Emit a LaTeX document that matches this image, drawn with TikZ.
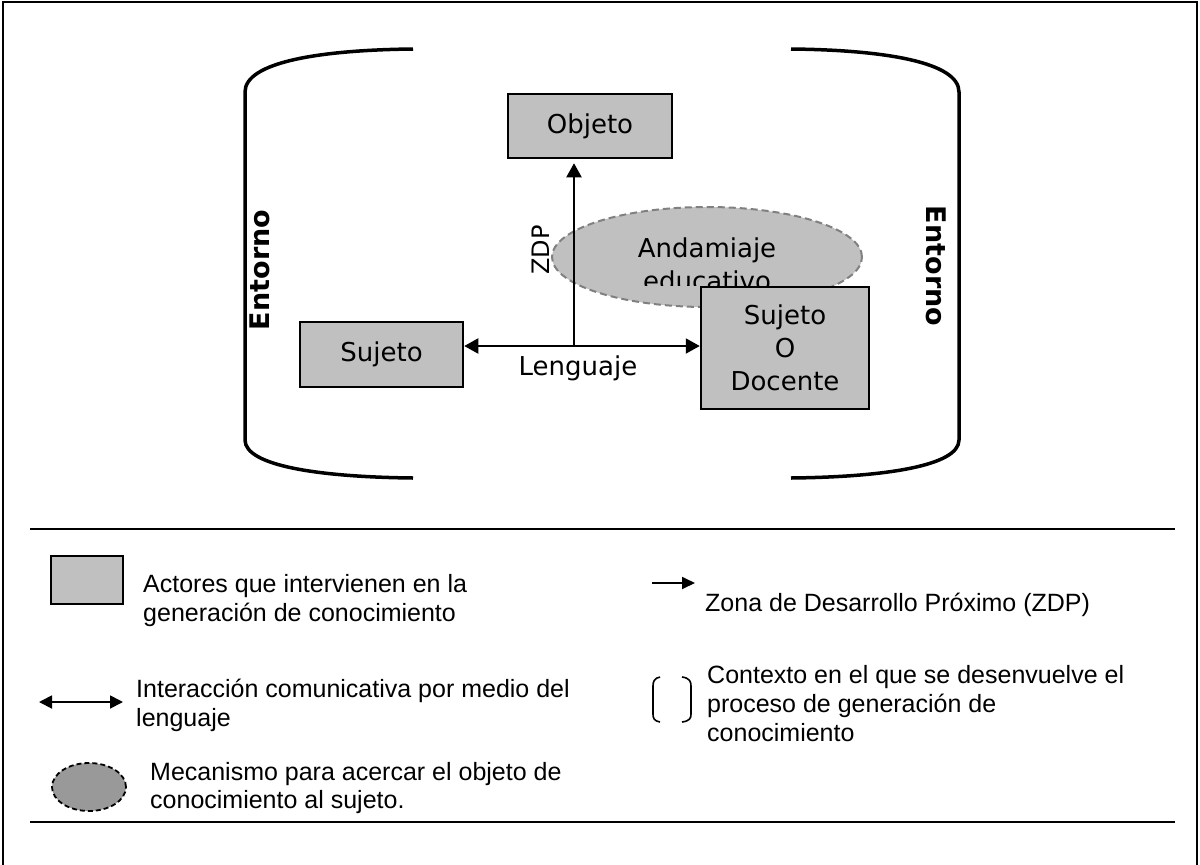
\documentclass[tikz,border=0pt]{standalone}
\usepackage{fontspec}
\newfontfamily\dvs{DejaVu Sans}
\newfontfamily\lib{Liberation Sans}
\usetikzlibrary{arrows.meta,shapes.geometric}
\definecolor{boxgray}{HTML}{C0C0C0}
\definecolor{dashgray}{HTML}{808080}
\definecolor{legendgray}{HTML}{999999}
\begin{document}
\begin{tikzpicture}[x=1pt,y=-1pt,
  actor/.style={draw=black, line width=2.5pt, fill=boxgray, inner sep=0pt,
    font=\dvs\fontsize{26}{33}\selectfont, align=center},
  bracket/.style={draw=black, line width=3.5pt},
  arr/.style={line width=2pt, -{Triangle[length=14pt,width=15pt]}},
  darr/.style={line width=2pt, {Triangle[length=14pt,width=15pt]}-{Triangle[length=14pt,width=15pt]}},
  lbl/.style={font=\dvs\fontsize{26}{32}\selectfont, inner sep=0pt},
  envlbl/.style={font=\dvs\bfseries\fontsize{27}{32}\selectfont, inner sep=0pt},
  legtext/.style={font=\lib\fontsize{25}{29}\selectfont, inner sep=0pt, anchor=base west},
  rule/.style={line width=2.7pt},
  frame/.style={line width=2pt}
]
\useasboundingbox (0,0) rectangle (1200,865);

% frame
\draw[frame] (3,865) -- (3,2) -- (1197,2) -- (1197,865);

% environment brackets
\draw[bracket] (413,49) .. controls (320,50) and (245,62) .. (245,92) -- (245,440)
  .. controls (245,466) and (320,477) .. (413,478);
\draw[bracket] (791,49) .. controls (884,50) and (959,62) .. (959,92) -- (959,440)
  .. controls (959,466) and (884,477) .. (791,478);
\node[envlbl, rotate=90] (entL) at (260,270) {Entorno};
\node[envlbl, rotate=-90] (entR) at (936,266) {Entorno};

% scaffolding ellipse
\node[ellipse, draw=dashgray, line width=2pt, dash pattern=on 7pt off 4pt,
  fill=boxgray, minimum width=310pt, minimum height=100pt, inner sep=0pt] (andam) at (707,257) {};
\node[lbl, anchor=base] (andamA) at (707,257) {Andamiaje};
\begin{scope}
  \clip (552,200) rectangle (863,285);
  \node[lbl, anchor=base] (andamB) at (707,290) {educativo};
\end{scope}

% actors
\node[actor, minimum width=164pt, minimum height=64pt] (obj) at (590,126) {Objeto};
\node[actor, minimum width=163pt, minimum height=65pt] (suj) at (381.5,354.5) {Sujeto};
\node[actor, minimum width=168pt, minimum height=122pt] (doc) at (785,348) {Sujeto\\O\\Docente};

% connectors
\coordinate (hy) at (574,346);
\draw[darr] (suj.east |- hy) -- (doc.west |- hy);
\draw[arr] (hy) -- ([yshift=-4pt]obj.south -| hy);
\node[lbl, anchor=base] (leng) at (578,375) {Lenguaje};
\node[lbl, font=\dvs\fontsize{24}{30}\selectfont, rotate=90] (zdp) at (541,250) {ZDP};

% legend rules
\coordinate (r1a) at (30,529);
\coordinate (r1b) at (1175,529);
\coordinate (r2a) at (30,822);
\coordinate (r2b) at (1175,822);
\draw[rule] (r1a) -- (r1b);
\draw[rule] (r2a) -- (r2b);

% legend items
\node[draw=black, line width=2pt, fill=boxgray, minimum width=72pt, minimum height=48pt, inner sep=0pt] (legbox) at (87,580) {};
\node[legtext] (t1a) at (143,592) {Actores que intervienen en la};
\node[legtext] (t1b) at (143,621) {generación de conocimiento};

\coordinate (la1) at (652,583);
\coordinate (la2) at (695,583);
\draw[line width=1.8pt, -{Triangle[length=13pt,width=12pt]}] (la1) -- (la2);
\node[legtext] (t2) at (705,611) {Zona de Desarrollo Próximo (ZDP)};

\coordinate (ld1) at (39,702);
\coordinate (ld2) at (123,702);
\draw[line width=1.8pt, {Triangle[length=13pt,width=13pt]}-{Triangle[length=13pt,width=13pt]}] (ld1) -- (ld2);
\node[legtext] (t3a) at (136,697) {Interacción comunicativa por medio del};
\node[legtext] (t3b) at (136,726) {lenguaje};

\draw[line width=1.6pt] (660,677) .. controls (654,678) and (653,682) .. (653,686) -- (653,714)
  .. controls (653,718) and (654,721) .. (660,722);
\draw[line width=1.6pt] (682,677) .. controls (690,678) and (691,682) .. (691,686) -- (691,714)
  .. controls (691,718) and (690,721) .. (682,722);
\node[legtext] (t4a) at (707,683) {Contexto en el que se desenvuelve el};
\node[legtext] (t4b) at (707,712) {proceso de generación de};
\node[legtext] (t4c) at (707,741) {conocimiento};

\node[ellipse, draw=black, line width=1.8pt, dash pattern=on 5pt off 3pt, fill=legendgray,
  minimum width=74pt, minimum height=48pt, inner sep=0pt] (legell) at (89,787) {};
\node[legtext] (t5a) at (150,780) {Mecanismo para acercar el objeto de};
\node[legtext] (t5b) at (150,808) {conocimiento al sujeto.};
\end{tikzpicture}
\end{document}
